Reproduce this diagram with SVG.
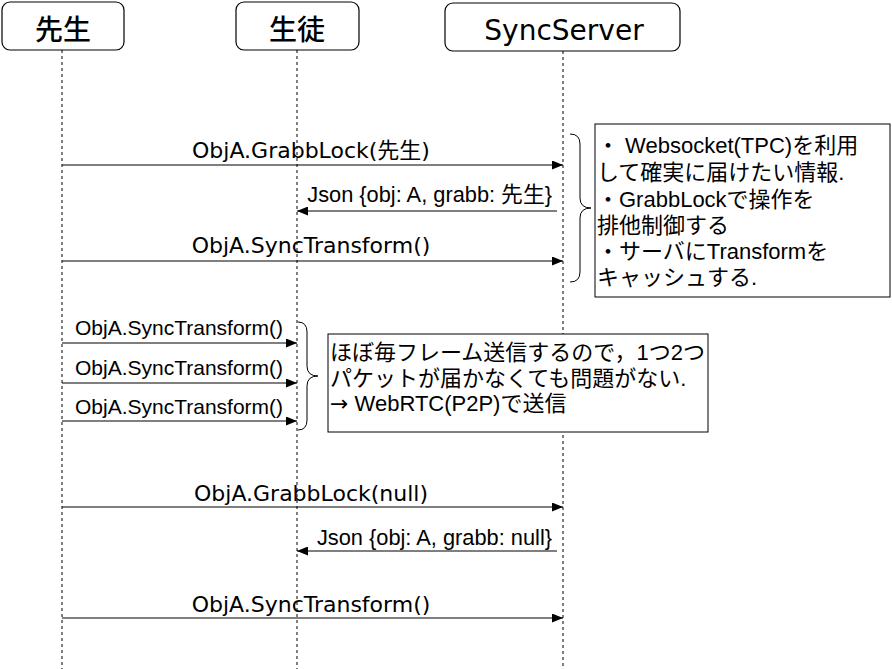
<svg xmlns="http://www.w3.org/2000/svg" width="892" height="669" viewBox="0 0 892 669">
<style>
.box{fill:#fff;stroke:#000;stroke-width:1.2}
.life{stroke:#000;stroke-width:1;stroke-dasharray:3,3;fill:none}
.msg{stroke:#000;stroke-width:1.2;fill:none;marker-end:url(#ah)}
.brace{stroke:#000;stroke-width:1;fill:none}
.hdr{font-family:"DejaVu Sans","Noto Sans CJK JP",sans-serif;font-size:28px;fill:#000;text-anchor:middle}
.cjk{font-weight:500}
.lbl{font-family:"DejaVu Sans","Noto Sans CJK JP",sans-serif;font-size:22px;fill:#000;text-anchor:middle}
.sm{font-family:"Liberation Sans","Noto Sans CJK JP",sans-serif;font-size:21px;fill:#000}
.js{font-family:"Liberation Sans","Noto Sans CJK JP",sans-serif;font-size:21.8px;fill:#000;text-anchor:end}
.note{font-family:"Liberation Sans","Noto Sans CJK JP",sans-serif;font-size:22px;fill:#000}
.arr{font-family:"DejaVu Sans",sans-serif}
</style>
<defs>
<marker id="ah" markerWidth="12" markerHeight="9" refX="11" refY="4.5" orient="auto" markerUnits="userSpaceOnUse"><path d="M0,0 L11,4.5 L0,9 z" fill="#000"/></marker>
</defs>
<rect width="892" height="669" fill="#fff"/>
<g id="lifelines">
<line class="life" x1="62" y1="50" x2="62" y2="669"/>
<line class="life" x1="297" y1="50" x2="297" y2="669"/>
<line class="life" x1="563" y1="51" x2="563" y2="669"/>
</g>
<g id="sensei"><rect class="box" x="2" y="2" width="122" height="48" rx="8"/><text class="hdr cjk" x="63" y="40">先生</text></g>
<g id="seito"><rect class="box" x="236" y="2" width="123" height="48" rx="8"/><text class="hdr cjk" x="297" y="40">生徒</text></g>
<g id="syncserver"><rect class="box" x="445" y="3" width="235" height="48" rx="8"/><text class="hdr" x="564" y="40">SyncServer</text></g>
<g id="connectors">
<line class="msg" x1="62" y1="165" x2="563" y2="165"/>
<text class="lbl" x="311" y="158">ObjA.GrabbLock(先生)</text>
<line class="msg" x1="557" y1="211" x2="297" y2="211"/>
<text class="js" x="552" y="202">Json {obj: A, grabb: 先生}</text>
<line class="msg" x1="62" y1="261" x2="563" y2="261"/>
<text class="lbl" x="311" y="253">ObjA.SyncTransform()</text>
<line class="msg" x1="62" y1="343" x2="297" y2="343"/>
<text class="sm" x="75" y="335">ObjA.SyncTransform()</text>
<line class="msg" x1="62" y1="383" x2="297" y2="383"/>
<text class="sm" x="75" y="375">ObjA.SyncTransform()</text>
<line class="msg" x1="62" y1="421" x2="297" y2="421"/>
<text class="sm" x="75" y="414">ObjA.SyncTransform()</text>
<line class="msg" x1="62" y1="507" x2="563" y2="507"/>
<text class="lbl" x="311" y="501">ObjA.GrabbLock(null)</text>
<line class="msg" x1="557" y1="551" x2="297" y2="551"/>
<text class="js" x="552" y="545">Json {obj: A, grabb: null}</text>
<line class="msg" x1="62" y1="618" x2="563" y2="618"/>
<text class="lbl" x="311" y="612">ObjA.SyncTransform()</text>
</g>
<g id="brace1"><path class="brace" d="M570,134 Q580,134 580,144 L580,198 Q580,208 591,208 Q580,208 580,218 L580,272 Q580,282 570,282"/></g>
<g id="note1">
<rect x="595" y="124" width="295" height="173" fill="#fff" stroke="#000" stroke-width="1"/>
<text class="note" x="597" y="153">・ Websocket(TPC)を利用</text>
<text class="note" x="597" y="180">して確実に届けたい情報.</text>
<text class="note" x="597" y="207">・GrabbLockで操作を</text>
<text class="note" x="597" y="233">排他制御する</text>
<text class="note" x="597" y="259">・サーバにTransformを</text>
<text class="note" x="597" y="285">キャッシュする.</text>
</g>
<g id="brace2"><path class="brace" d="M298,322 Q307,322 307,332 L307,366 Q307,376 318,376 Q307,376 307,386 L307,420 Q307,430 298,430"/></g>
<g id="note2">
<rect x="328" y="334" width="380" height="98" fill="#fff" stroke="#000" stroke-width="1"/>
<text class="note" x="330" y="360">ほぼ毎フレーム送信するので，1つ2つ</text>
<text class="note" x="330" y="386">パケットが届かなくても問題がない.</text>
<text class="note" x="330" y="411"><tspan class="arr">→</tspan> WebRTC(P2P)で送信</text>
</g>
</svg>
